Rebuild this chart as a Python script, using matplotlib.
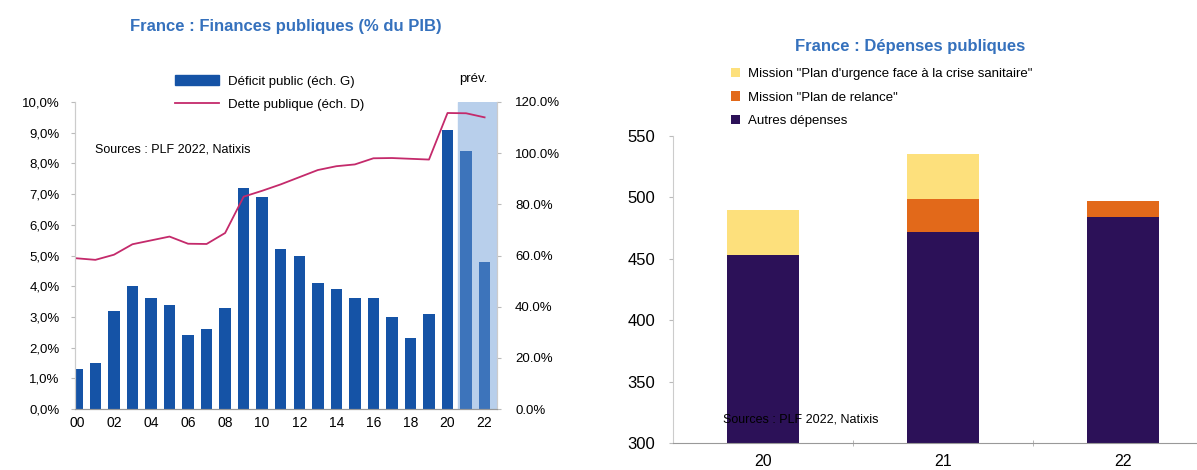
import numpy as np
import matplotlib
matplotlib.use('Agg')
import matplotlib.pyplot as plt
from matplotlib.patches import Rectangle
from matplotlib.lines import Line2D

plt.rcParams['font.family'] = ['Liberation Sans', 'DejaVu Sans']

# Left chart data: deficit (% of GDP, left axis) and debt (% of GDP, right axis)
years = ['00', '01', '02', '03', '04', '05', '06', '07', '08', '09', '10', '11',
         '12', '13', '14', '15', '16', '17', '18', '19', '20', '21', '22']
deficit = [1.3, 1.5, 3.2, 4.0, 3.6, 3.4, 2.4, 2.6, 3.3, 7.2, 6.9, 5.2,
           5.0, 4.1, 3.9, 3.6, 3.6, 3.0, 2.3, 3.1, 9.1, 8.4, 4.8]
debt = [58.9, 58.3, 60.3, 64.4, 65.9, 67.4, 64.6, 64.5, 68.8, 83.0, 85.3, 87.8,
        90.6, 93.4, 94.9, 95.6, 98.0, 98.1, 97.8, 97.5, 115.7, 115.6, 114.0]
n_forecast = 2  # last two years are forecasts

# Right chart data: public spending (bn EUR)
spend_years = ['20', '21', '22']
autres = [453, 472, 484]
relance = [0, 27, 13]
urgence = [37, 36, 0]

W, H = 1197, 470
fig = plt.figure(figsize=(W / 100, H / 100), dpi=100)

def box(x0, x1, ytop, ybot):
    return [x0 / W, 1 - ybot / H, (x1 - x0) / W, (ybot - ytop) / H]

title_col = '#3571bd'
bar_col = '#1553a6'
fc_col = '#3d74bb'
debt_col = '#c42a6b'

# ---- left chart ----
ax = fig.add_axes(box(75, 497, 102, 409))
ax2 = ax.twinx()
x = np.arange(len(years))
ax.axvspan(len(years) - n_forecast - 0.43, 22.67, color='#b8cfeb', zorder=0)
cols = [bar_col] * (len(years) - n_forecast) + [fc_col] * n_forecast
ax.bar(x, deficit, width=0.62, color=cols, zorder=2)
ax2.plot(x, debt, color=debt_col, lw=1.3)
ax.set_xlim(-0.1, 22.67)
ax.set_ylim(0, 10)
ax2.set_ylim(0, 120)
ax.set_yticks(np.arange(0, 11, 1))
ax.set_yticklabels([f'{v},0%' for v in range(0, 11)], fontsize=9.5)
ax2.set_yticks(np.arange(0, 121, 20))
ax2.set_yticklabels([f'{v}.0%' for v in range(0, 121, 20)], fontsize=9.5)
ax.set_xticks(x[::2])
ax.set_xticklabels(years[::2], fontsize=10)
ax.tick_params(axis='x', length=0, pad=5)
ax.tick_params(axis='y', length=3, color='#bbbbbb', pad=8)
ax2.tick_params(axis='y', length=3, color='#bbbbbb', pad=10)
for a in (ax, ax2):
    a.spines['top'].set_visible(False)
    a.spines['left'].set_color('#cccccc')
    a.spines['right'].set_color('#cccccc')
    a.spines['bottom'].set_color('#999999')
ax.patch.set_visible(False)
ax.set_zorder(1)
ax2.set_zorder(2)

fig.text(286 / W, 1 - 27 / H, 'France : Finances publiques (% du PIB)', color=title_col,
         fontsize=12, fontweight='bold', ha='center', va='center')
fig.text(473 / W, 1 - 79 / H, 'prév.', fontsize=9.5, ha='center', va='center')
fig.text(95 / W, 1 - 149 / H, 'Sources : PLF 2022, Natixis', fontsize=9, ha='left', va='center')

h1 = Rectangle((0, 0), 1, 1, color=bar_col)
h2 = Line2D([], [], color=debt_col, lw=1.3)
fig.legend([h1, h2], ['Déficit public (éch. G)', 'Dette publique (éch. D)'],
           loc='upper left', bbox_to_anchor=(175 / W, 1 - 75 / H), frameon=False,
           fontsize=9.5, handlelength=3.3, handleheight=0.8, handletextpad=0.7,
           labelspacing=0.8, borderaxespad=0, borderpad=0)

# ---- right chart ----
bx = fig.add_axes(box(673, 1213, 136, 443))
xs = np.arange(len(spend_years))
c_aut, c_rel, c_urg = '#2c1158', '#e2691a', '#fde07c'
bx.bar(xs, autres, width=0.4, color=c_aut, label='Autres dépenses')
bx.bar(xs, relance, width=0.4, bottom=autres, color=c_rel, label='Mission "Plan de relance"')
bot2 = [a + r for a, r in zip(autres, relance)]
bx.bar(xs, urgence, width=0.4, bottom=bot2, color=c_urg,
       label='Mission "Plan d\'urgence face à la crise sanitaire"')
bx.set_xlim(-0.5, 2.5)
bx.set_ylim(300, 550)
bx.set_yticks(np.arange(300, 551, 50))
bx.set_xticks(xs)
bx.set_xticklabels(spend_years, fontsize=11.5)
bx.set_xticks([0.5, 1.5], minor=True)
bx.tick_params(axis='x', which='major', length=0, pad=8)
bx.tick_params(axis='x', which='minor', length=4, direction='inout', color='#aaaaaa')
bx.tick_params(axis='y', labelsize=12, length=3, color='#bbbbbb', pad=10)
for s in ('top', 'right'):
    bx.spines[s].set_visible(False)
bx.spines['left'].set_color('#cccccc')
bx.spines['bottom'].set_color('#999999')

fig.text(910 / W, 1 - 47 / H, 'France : Dépenses publiques', color=title_col,
         fontsize=12, fontweight='bold', ha='center', va='center')
bx.text(723 / W, 1 - 420 / H, 'Sources : PLF 2022, Natixis', fontsize=9,
        ha='left', va='center', transform=fig.transFigure, zorder=5)
hs, ls = bx.get_legend_handles_labels()
fig.legend(hs[::-1], ls[::-1], loc='upper left', bbox_to_anchor=(731 / W, 1 - 68 / H),
           frameon=False, fontsize=9.5, handlelength=0.7, handleheight=0.7,
           handletextpad=0.6, labelspacing=0.85, borderaxespad=0, borderpad=0)

fig.savefig('out.png', dpi=100)
